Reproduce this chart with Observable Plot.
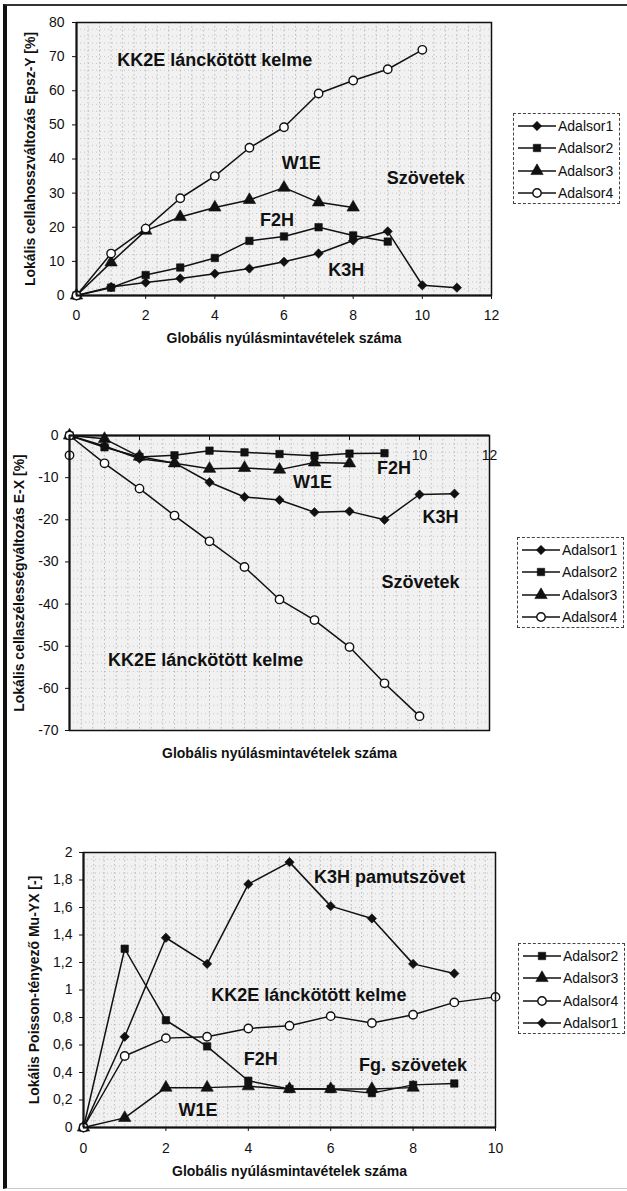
<!DOCTYPE html>
<html>
<head>
<meta charset="utf-8">
<script src="https://cdn.jsdelivr.net/npm/d3@7"></script>
<script src="https://cdn.jsdelivr.net/npm/@observablehq/plot@0.6"></script>
<style>
  html, body { margin: 0; padding: 0; background: #fff; }
  #fig { position: relative; width: 627px; height: 1191px; overflow: hidden;
         font-family: "Liberation Sans", Arial, sans-serif; background: #fff; }
  .border { position: absolute; left: 3px; top: 4px; width: 620px; height: 1182px;
            border-left: 4px solid #111; border-top: 2px solid #333;
            border-right: 1px solid #c8c8c8; border-bottom: 1px solid #c8c8c8; }
  .chart { position: absolute; left: 0; }
  .legend { position: absolute; box-sizing: border-box; border: 1px dashed #444; background: #fff;
            font-size: 14px; color: #111; padding-top: 1px; }
  .legend .row { display: flex; align-items: center; height: 22.3px; }
  .legend svg { display: block; flex: none; }
  .legend span { margin-left: 2px; white-space: nowrap; }
</style>
</head>
<body>
<div id="fig"><div class="border"></div></div>
<script>
// ---------- DATA ----------
// Chart 1: Lokális cellahosszváltozás Epsz-Y [%]
const c1_adalsor1 = [0, 2.5, 3.8, 5, 6.4, 7.9, 9.9, 12.3, 16.1, 18.8, 3, 2.3];
const c1_adalsor2 = [0, 2.3, 6, 8.2, 11, 16, 17.3, 20, 17.6, 15.8];
const c1_adalsor3 = [0, 9.7, 19, 23, 25.8, 28, 31.6, 27.3, 25.8];
const c1_adalsor4 = [0, 12.3, 19.6, 28.5, 35, 43.3, 49.3, 59.2, 63, 66.3, 72];
const c1_yTicks = [0, 10, 20, 30, 40, 50, 60, 70, 80];
const c1_xTicks = [0, 2, 4, 6, 8, 10, 12];

// Chart 2: Lokális cellaszélességváltozás E-X [%]
const c2_adalsor1 = [0, -2.5, -5.5, -6.5, -11.1, -14.6, -15.3, -18.2, -18, -20, -14, -13.8];
const c2_adalsor2 = [0, -2.8, -5.1, -4.7, -3.6, -4, -4.4, -4.8, -4.3, -4.2];
const c2_adalsor3 = [0, -0.8, -5, -6.6, -7.9, -7.7, -8.1, -6.4, -6.6];
const c2_adalsor4 = [0, -6.6, -12.6, -19, -25.1, -31.2, -38.9, -43.8, -50.2, -58.8, -66.6];
const c2_extraPoint = [{x: 0, y: -4.7}];   // stray open circle drawn at x = 0
const c2_yTicks = [0, -10, -20, -30, -40, -50, -60, -70];
const c2_xTickMarks = [0, 2, 4, 6, 8, 10, 12];
const c2_xTickLabels = [10, 12];

// Chart 3: Lokális Poisson-tényező Mu-YX [-]
const c3_adalsor1 = [0, 0.66, 1.38, 1.19, 1.77, 1.93, 1.61, 1.52, 1.19, 1.12];
const c3_adalsor2 = [0, 1.30, 0.78, 0.59, 0.34, 0.28, 0.28, 0.25, 0.31, 0.32];
const c3_adalsor3 = [0, 0.07, 0.29, 0.29, 0.30, 0.28, 0.28, 0.28, 0.29];
const c3_adalsor4 = [0, 0.52, 0.65, 0.66, 0.72, 0.74, 0.81, 0.76, 0.82, 0.91, 0.95];
const c3_yTicks = [0, 0.2, 0.4, 0.6, 0.8, 1, 1.2, 1.4, 1.6, 1.8, 2];
const c3_xTicks = [0, 2, 4, 6, 8, 10];

const xTitle = "Globális nyúlásmintavételek száma";
const yTitle1 = "Lokális cellahosszváltozás Epsz-Y [%]";
const yTitle2 = "Lokális cellaszélességváltozás E-X [%]";
const yTitle3 = "Lokális Poisson-tényező Mu-YX [-]";

const c1_labels = [
  {x: 4, y: 69, text: "KK2E lánckötött kelme"},
  {x: 6.5, y: 38.7, text: "W1E"},
  {x: 10.1, y: 34.3, text: "Szövetek"},
  {x: 5.8, y: 22, text: "F2H"},
  {x: 7.8, y: 7.3, text: "K3H"}
];
const c2_labels = [
  {x: 6.94, y: -11.2, text: "W1E"},
  {x: 9.27, y: -7.8, text: "F2H"},
  {x: 10.6, y: -19.5, text: "K3H"},
  {x: 10.03, y: -34.9, text: "Szövetek"},
  {x: 3.89, y: -53.4, text: "KK2E lánckötött kelme"}
];
const c3_labels = [
  {x: 7.43, y: 1.82, text: "K3H pamutszövet"},
  {x: 5.47, y: 0.96, text: "KK2E lánckötött kelme"},
  {x: 4.3, y: 0.50, text: "F2H"},
  {x: 2.78, y: 0.124, text: "W1E"},
  {x: 8.0, y: 0.45, text: "Fg. szövetek"}
];

const seriesNames = ["Adalsor1", "Adalsor2", "Adalsor3", "Adalsor4"];
const symbols = {Adalsor1: "diamond2", Adalsor2: "square", Adalsor3: "triangle", Adalsor4: "circle"};
const c1_legendOrder = ["Adalsor1", "Adalsor2", "Adalsor3", "Adalsor4"];
const c2_legendOrder = ["Adalsor1", "Adalsor2", "Adalsor3", "Adalsor4"];
const c3_legendOrder = ["Adalsor2", "Adalsor3", "Adalsor4", "Adalsor1"];

// ---------- HELPERS ----------
const FONT = "Liberation Sans, Arial, sans-serif";
const fig = document.getElementById("fig");

function toRows(arrays) {
  return arrays.map((vals, k) => vals.map((v, i) => ({series: seriesNames[k], x: i, y: v})));
}

function dotStyle(s) {
  const open = s === "circle";
  return {symbol: s, r: s === "triangle" ? 4.6 : 4.2, fill: open ? "white" : "#111",
          stroke: "#111", strokeWidth: open ? 1.4 : 0.6};
}

function seriesMarks(rows) {
  const marks = [];
  for (const data of rows) {
    marks.push(Plot.line(data, {x: "x", y: "y", stroke: "#111", strokeWidth: 1.5}));
  }
  for (const data of rows) {
    marks.push(Plot.dot(data, {x: "x", y: "y", ...dotStyle(symbols[data[0].series])}));
  }
  return marks;
}

function texture(xDomain, yDomain, xStep, yStep) {
  return [
    Plot.frame({fill: "#f1f1f1", stroke: "none"}),
    Plot.gridX(d3.range(xDomain[0], xDomain[1] + 1e-9, xStep), {stroke: "#777", strokeOpacity: 0.45, strokeDasharray: "1.5,2.5"}),
    Plot.gridY(d3.range(yDomain[0], yDomain[1] + 1e-9, yStep), {stroke: "#777", strokeOpacity: 0.35, strokeDasharray: "1,3"})
  ];
}

function annotations(labels) {
  return Plot.text(labels, {x: "x", y: "y", text: "text", fontSize: 18, fontWeight: "bold", fill: "#111"});
}

function titles(dyX, dxY, yTitle) {
  return [
    Plot.text([xTitle], {text: d => d, frameAnchor: "bottom", dy: dyX, fontSize: 14, fontWeight: "bold", textAnchor: "middle"}),
    Plot.text([yTitle], {text: d => d, frameAnchor: "left", dx: dxY, rotate: -90, textAnchor: "middle",
                         fontSize: 14, fontWeight: "bold"})
  ];
}

function place(svg, top) {
  svg.classList.add("chart");
  svg.style.top = top + "px";
  fig.appendChild(svg);
}

function legend(order, left, top) {
  const div = document.createElement("div");
  div.className = "legend";
  div.style.left = left + "px";
  div.style.top = top + "px";
  div.style.width = "107px";
  div.style.height = "91px";
  for (const name of order) {
    const row = document.createElement("div");
    row.className = "row";
    const svg = d3.create("svg").attr("width", 42).attr("height", 20);
    svg.append("line").attr("x1", 4).attr("x2", 42).attr("y1", 10).attr("y2", 10)
      .attr("stroke", "#111").attr("stroke-width", 1.5);
    const st = dotStyle(symbols[name]);
    const typ = {diamond2: d3.symbolDiamond2, square: d3.symbolSquare, triangle: d3.symbolTriangle, circle: d3.symbolCircle}[st.symbol];
    svg.append("path").attr("d", d3.symbol(typ, Math.PI * st.r * st.r)())
      .attr("transform", "translate(23,10)")
      .attr("fill", st.fill).attr("stroke", st.stroke).attr("stroke-width", st.strokeWidth);
    row.appendChild(svg.node());
    const span = document.createElement("span");
    span.textContent = name;
    row.appendChild(span);
    div.appendChild(row);
  }
  fig.appendChild(div);
}

const common = {width: 627, style: {fontFamily: FONT, fontSize: "14px", color: "#111", background: "transparent"}};

// ---------- CHART 1 ----------
{
  const rows = toRows([c1_adalsor1, c1_adalsor2, c1_adalsor3, c1_adalsor4]);
  const svg = Plot.plot({
    ...common,
    height: 360,
    marginLeft: 76, marginRight: 136, marginTop: 22, marginBottom: 65,
    x: {domain: [0, 12]},
    y: {domain: [0, 80]},
    marks: [
      ...texture([0, 12], [0, 80], 1 / 3, 2),
      Plot.axisY({ticks: c1_yTicks, tickSize: 4, tickPadding: 8, fontSize: 14, label: null}),
      Plot.axisX({ticks: c1_xTicks, tickSize: 4, tickPadding: 11, fontSize: 14, label: null}),
      ...seriesMarks(rows),
      Plot.frame({stroke: "#111", strokeWidth: 1.5}),
      Plot.ruleX([0], {stroke: "#111", strokeWidth: 2}),
      Plot.ruleY([0], {stroke: "#111", strokeWidth: 2}),
      annotations(c1_labels),
      ...titles(47, -46, yTitle1)
    ]
  });
  place(svg, 0);
  legend(c1_legendOrder, 513, 113);
}

// ---------- CHART 2 ----------
{
  const rows = toRows([c2_adalsor1, c2_adalsor2, c2_adalsor3, c2_adalsor4]);
  const svg = Plot.plot({
    ...common,
    height: 380,
    marginLeft: 69, marginRight: 138, marginTop: 35, marginBottom: 50,
    x: {domain: [0, 12], axis: null},
    y: {domain: [-70, 0]},
    marks: [
      ...texture([0, 12], [-70, 0], 1 / 3, 2),
      Plot.axisY({ticks: c2_yTicks, tickSize: 4, tickPadding: 7, fontSize: 14, label: null, tickFormat: d => String(d)}),
      Plot.ruleX(c2_xTickMarks, {y1: 0, y2: -1.2, stroke: "#111", strokeWidth: 1}),
      Plot.text(c2_xTickLabels, {x: d => d, y: 0, text: d => String(d), dy: 20, fontSize: 14}),
      ...seriesMarks(rows),
      Plot.dot(c2_extraPoint, {x: "x", y: "y", ...dotStyle("circle")}),
      Plot.frame({stroke: "#111", strokeWidth: 1.5}),
      Plot.ruleX([0], {stroke: "#111", strokeWidth: 2}),
      Plot.ruleY([0], {stroke: "#111", strokeWidth: 2}),
      annotations(c2_labels),
      ...titles(27, -50, yTitle2)
    ]
  });
  place(svg, 400);
  legend(c2_legendOrder, 517, 537);
}

// ---------- CHART 3 ----------
{
  const rows = toRows([c3_adalsor1, c3_adalsor2, c3_adalsor3, c3_adalsor4]);
  const fmt = d => String(Math.round(d * 10) / 10).replace(".", ",");
  const svg = Plot.plot({
    ...common,
    height: 391,
    marginLeft: 83, marginRight: 132, marginTop: 52, marginBottom: 64,
    x: {domain: [0, 10]},
    y: {domain: [0, 2]},
    marks: [
      ...texture([0, 10], [0, 2], 1 / 4, 0.05),
      Plot.axisY({ticks: c3_yTicks, tickSize: 4, tickPadding: 7, fontSize: 14, label: null, tickFormat: fmt}),
      Plot.axisX({ticks: c3_xTicks, tickSize: 4, tickPadding: 12, fontSize: 14, label: null}),
      ...seriesMarks(rows),
      Plot.frame({stroke: "#111", strokeWidth: 1.5}),
      Plot.ruleX([0], {stroke: "#111", strokeWidth: 2}),
      Plot.ruleY([0], {stroke: "#111", strokeWidth: 2}),
      annotations(c3_labels),
      ...titles(48, -49, yTitle3)
    ]
  });
  place(svg, 800);
  legend(c3_legendOrder, 518, 943);
}
</script>
</body>
</html>
